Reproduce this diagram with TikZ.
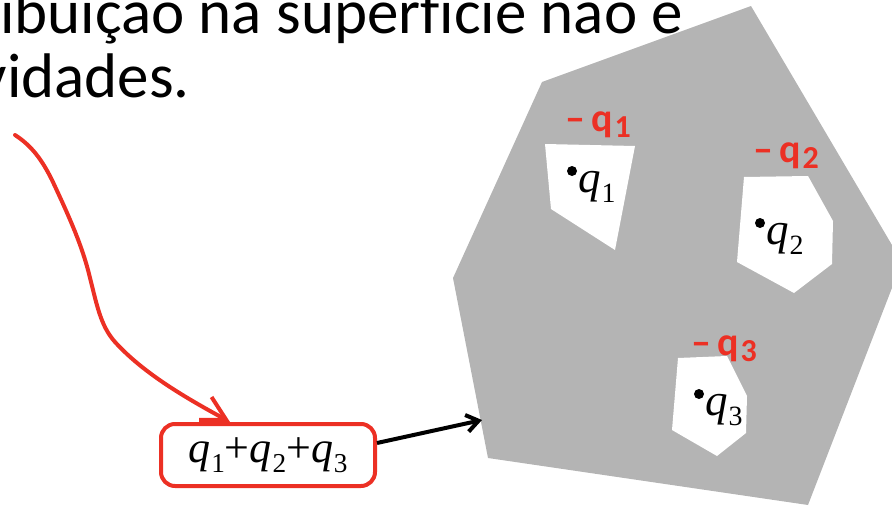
\documentclass[tikz,border=0pt]{standalone}
\usepackage{fontspec}
\usepackage{graphicx}
\setmainfont{Carlito}[Ligatures=CommonOff]
\newfontfamily\tmsfont{Liberation Serif}
\usetikzlibrary{arrows.meta}
\definecolor{inkred}{RGB}{236,48,36}
\definecolor{condgray}{RGB}{180,180,180}
\newcommand\qq[1]{{\itshape q}\kern0.02em\raisebox{-0.24em}{\scalebox{0.62}{#1}}}
\newcommand\negq[1]{\textendash\kern0.15em q\kern0.05em\raisebox{-0.15em}{\scalebox{0.8}{#1}}}

\begin{document}
\begin{tikzpicture}[
		x=1pt, y=-1pt,
		headtxt/.style={inner sep=0, font=\fontsize{63}{70}\selectfont},
		dot/.style={circle, fill=black, inner sep=0, minimum size=10pt},
		charge/.style={inner sep=0, anchor=base west, font=\tmsfont\fontsize{45}{50}\selectfont},
		ink/.style={inkred, line width=4pt, line cap=round, line join=round},
		inktxt/.style={text=inkred, inner sep=0, font=\bfseries\fontsize{40}{42}\selectfont},
		sumbox/.style={draw=inkred, line width=4pt, rounded corners=14pt, minimum width=214pt, minimum height=62pt,
			inner sep=0, font=\tmsfont\fontsize{44}{48}\selectfont},
		arr/.style={-{Straight Barb[length=12pt, width=17pt]}, line width=4pt}
		]
		\path[use as bounding box] (0,0) rectangle (892,506);
		\clip (0,0) rectangle (892,506);
		
		% slide text
		\node[headtxt, anchor=base west] (l1) at (0,33) {ibuição na superfície não é};
		\node[headtxt, anchor=base east] (l2) at (190,97) {vidades.};
		
		% conductor with three cavities
		\fill[condgray] (751,6) -- (902,262) -- (808,505) -- (488,458) -- (453,278) -- (542,82) -- cycle;
		\fill[white] (545,144) -- (635,146) -- (615,250) -- (551,209) -- cycle;
		\fill[white] (744,177) -- (808,176) -- (833,221) -- (832,264) -- (794,293) -- (737,262) -- cycle;
		\fill[white] (678,358) -- (727,356) -- (747,396) -- (746,433) -- (717,456) -- (672,430) -- cycle;
		\foreach \x/\y/\i in {572/171/1, 760/223/2, 699/394/3}{
			\node[dot] (d\i) at (\x,\y) {};
			\node[charge] (q\i) at (\x+6,\y+21) {\qq{\i}};
		}
		\coordinate (edge) at (482,420);
		
		% induced charges
		\node[inktxt] (n1) at (598,125) {\negq{1}};
		\node[inktxt] (n2) at (786,156) {\negq{2}};
		\node[inktxt] (n3) at (724,349) {\negq{3}};
		
		\node[sumbox] (sum) at (268,455) {\qq1+\qq2+\qq3};
		\coordinate (start) at (15,135);
		
		\draw[arr] ([yshift=12pt]sum.east) -- (edge);
		\draw[ink, -{Straight Barb[length=24pt, width=26pt]}] (start) .. controls (32,146) and (42,160) .. (52,180)
			.. controls (66,210) and (80,240) .. (88,270)
			.. controls (97,305) and (100,325) .. (115,342)
			.. controls (145,375) and (190,400) .. ([xshift=-38pt]sum.north);
	\end{tikzpicture}
\end{document}
